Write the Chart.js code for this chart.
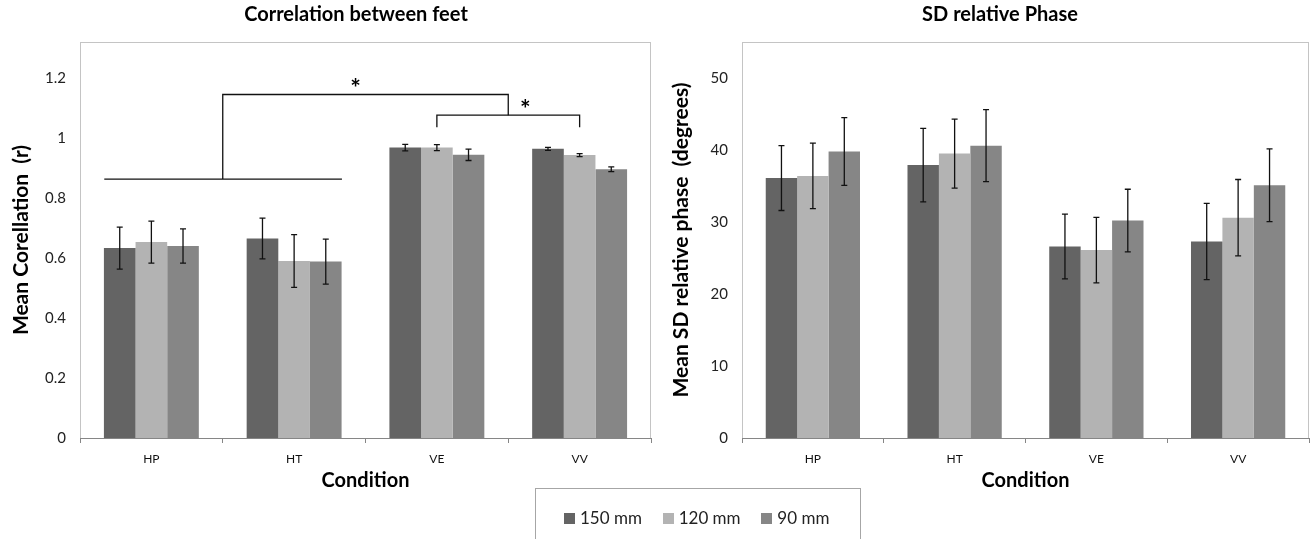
<!DOCTYPE html>
<html>
<head>
<meta charset="utf-8">
<script src="https://cdn.jsdelivr.net/npm/chart.js@4.4.0/dist/chart.umd.min.js"></script>
<style>
  body { margin: 0; background: #fff; width: 1313px; height: 539px; overflow: hidden; position: relative; font-family: Lato, "Open Sans", sans-serif; }
  #leftBox { position: absolute; left: 0; top: 0; width: 660px; height: 500px; }
  #rightBox { position: absolute; left: 660px; top: 0; width: 653px; height: 500px; }
  #legend { position: absolute; left: 535px; top: 488px; width: 326px; height: 70px; border: 1px solid #a6a6a6; box-sizing: border-box; padding: 19px 0 0 28px; display: flex; align-items: flex-start; }
  #legend .item { width: 99px; height: 20px; line-height: 20px; display: flex; align-items: center; font-size: 17px; color: #222; }
  #legend .sw { width: 11px; height: 11px; margin-right: 5px; display: inline-block; }
</style>
</head>
<body>
<div id="leftBox"><canvas id="corrChart"></canvas></div>
<div id="rightBox"><canvas id="phaseChart"></canvas></div>
<div id="legend"></div>
<script>
// categorias y series
const categories = ['HP', 'HT', 'VE', 'VV'];
const seriesNames = ['150 mm', '120 mm', '90 mm'];
const seriesColors = ['#646464', '#b3b3b3', '#868686'];

// Correlation between feet (r) + error
const corr150 = [0.633, 0.665, 0.968, 0.964];
const corr120 = [0.653, 0.590, 0.968, 0.943];
const corr90 = [0.640, 0.588, 0.944, 0.896];
const corrErr150 = [0.070, 0.068, 0.011, 0.005];
const corrErr120 = [0.070, 0.088, 0.010, 0.005];
const corrErr90 = [0.057, 0.075, 0.019, 0.008];
const corrTicks = [0, 0.2, 0.4, 0.6, 0.8, 1, 1.2];

// SD relative phase (degrees) + error
const phase150 = [36.1, 37.9, 26.6, 27.3];
const phase120 = [36.4, 39.5, 26.1, 30.6];
const phase90 = [39.8, 40.6, 30.2, 35.1];
const phaseErr150 = [4.5, 5.1, 4.5, 5.3];
const phaseErr120 = [4.55, 4.8, 4.55, 5.3];
const phaseErr90 = [4.7, 5.0, 4.35, 5.05];
const phaseTicks = [0, 10, 20, 30, 40, 50];

// significance brackets: [category position, r value]
const bracketLow = [[-0.33, 0.863], [1.335, 0.863]];
const bracketMain = [[0.5, 0.863], [0.5, 1.145], [2.5, 1.145], [2.5, 1.076]];
const bracketHigh = [[2, 1.036], [2, 1.076], [3, 1.076], [3, 1.036]];
const starMarks = [[1.43, 1.163], [2.62, 1.093]];

const FONT = 'Lato, "Open Sans", sans-serif';
Chart.defaults.font.family = FONT;
Chart.defaults.color = '#222';

// legend (html)
const legendEl = document.getElementById('legend');
seriesNames.forEach((n, i) => {
  legendEl.innerHTML += '<div class="item"><span class="sw" style="background:' + seriesColors[i] + '"></span>' + n + '</div>';
});

// barras de error
const errorBars = {
  id: 'errorBars',
  afterDatasetsDraw(chart) {
    const ctx = chart.ctx, y = chart.scales.y;
    ctx.save();
    ctx.strokeStyle = '#111';
    ctx.lineWidth = 1.3;
    chart.data.datasets.forEach((ds, di) => {
      const meta = chart.getDatasetMeta(di);
      meta.data.forEach((bar, i) => {
        const v = ds.data[i], e = ds.errors[i];
        const top = y.getPixelForValue(v + e), bot = y.getPixelForValue(v - e);
        ctx.beginPath();
        ctx.moveTo(bar.x, top); ctx.lineTo(bar.x, bot);
        ctx.moveTo(bar.x - 3, top); ctx.lineTo(bar.x + 3, top);
        ctx.moveTo(bar.x - 3, bot); ctx.lineTo(bar.x + 3, bot);
        ctx.stroke();
      });
    });
    ctx.restore();
  }
};

// marco del area de grafico + titulo
const frameAndTitle = {
  id: 'frameAndTitle',
  beforeDraw(chart, args, opts) {
    const a = chart.chartArea, ctx = chart.ctx;
    ctx.save();
    ctx.strokeStyle = '#c4c4c4';
    ctx.lineWidth = 1;
    ctx.strokeRect(a.left + 0.5, a.top + 0.5, a.right - a.left - 1, a.bottom - a.top);
    ctx.fillStyle = '#000';
    ctx.font = 'bold 20px ' + FONT;
    ctx.textAlign = 'center';
    ctx.textBaseline = 'middle';
    ctx.fillText(opts.text, opts.x, 15);
    ctx.restore();
  }
};

// corchetes de significancia
const brackets = {
  id: 'brackets',
  afterDatasetsDraw(chart, args, opts) {
    if (!opts.lines) return;
    const ctx = chart.ctx, x = chart.scales.x, y = chart.scales.y;
    const x0 = x.getPixelForValue(0), step = x.getPixelForValue(1) - x0;
    const px = p => x0 + p * step;
    ctx.save();
    ctx.strokeStyle = '#111';
    ctx.lineWidth = 1.3;
    opts.lines.forEach(line => {
      ctx.beginPath();
      line.forEach((pt, k) => {
        const X = px(pt[0]), Y = y.getPixelForValue(pt[1]);
        if (k === 0) ctx.moveTo(X, Y); else ctx.lineTo(X, Y);
      });
      ctx.stroke();
    });
    ctx.fillStyle = '#000';
    ctx.font = 'bold 25px ' + FONT;
    ctx.textAlign = 'center';
    ctx.textBaseline = 'middle';
    opts.stars.forEach(s => ctx.fillText('*', px(s[0]), y.getPixelForValue(s[1])));
    ctx.restore();
  }
};

function makeChart(id, vals, errs, ticks, yMax, yTitle, title, titleX, yWidth, padRight, extra) {
  return new Chart(document.getElementById(id), {
    type: 'bar',
    data: {
      labels: categories,
      datasets: seriesNames.map((n, i) => ({
        label: n,
        data: vals[i],
        errors: errs[i],
        backgroundColor: seriesColors[i],
        borderWidth: 0,
        categoryPercentage: 0.665,
        barPercentage: 1
      }))
    },
    options: {
      responsive: true,
      maintainAspectRatio: false,
      animation: false,
      layout: { padding: { top: 42, right: padRight, left: 0, bottom: 0 } },
      plugins: {
        legend: { display: false },
        tooltip: { enabled: false },
        frameAndTitle: { text: title, x: titleX },
        brackets: extra || {}
      },
      scales: {
        x: {
          offset: true,
          grid: { display: true, offset: true, drawOnChartArea: false, drawTicks: true, tickLength: 5, color: '#868686' },
          border: { display: true, color: '#868686' },
          ticks: { padding: 9, font: { size: 12 }, color: '#111' },
          title: { display: true, text: 'Condition', font: { size: 20, weight: 'bold' }, color: '#000', padding: { top: 0, bottom: 7 } },
          afterFit: s => { s.height = 62; }
        },
        y: {
          min: 0, max: yMax,
          afterBuildTicks: s => { s.ticks = ticks.map(v => ({ value: v })); },
          afterFit: s => { s.width = yWidth; },
          grid: { display: false, drawTicks: false },
          border: { display: false },
          ticks: { padding: 14, font: { size: 15 }, color: '#222', callback: v => String(v) },
          title: { display: true, text: yTitle, font: { size: 21, weight: 'bold' }, color: '#000', padding: { top: 9, bottom: 0 } }
        }
      }
    },
    plugins: [frameAndTitle, errorBars, brackets]
  });
}

makeChart('corrChart', [corr150, corr120, corr90], [corrErr150, corrErr120, corrErr90],
  corrTicks, 1.32, 'Mean Corellation  (r)', 'Correlation between feet', 356, 80, 9,
  { lines: [bracketLow, bracketMain, bracketHigh], stars: starMarks });

makeChart('phaseChart', [phase150, phase120, phase90], [phaseErr150, phaseErr120, phaseErr90],
  phaseTicks, 55, 'Mean SD relative phase  (degrees)', 'SD relative Phase', 340, 82, 4, null);
</script>
</body>
</html>
